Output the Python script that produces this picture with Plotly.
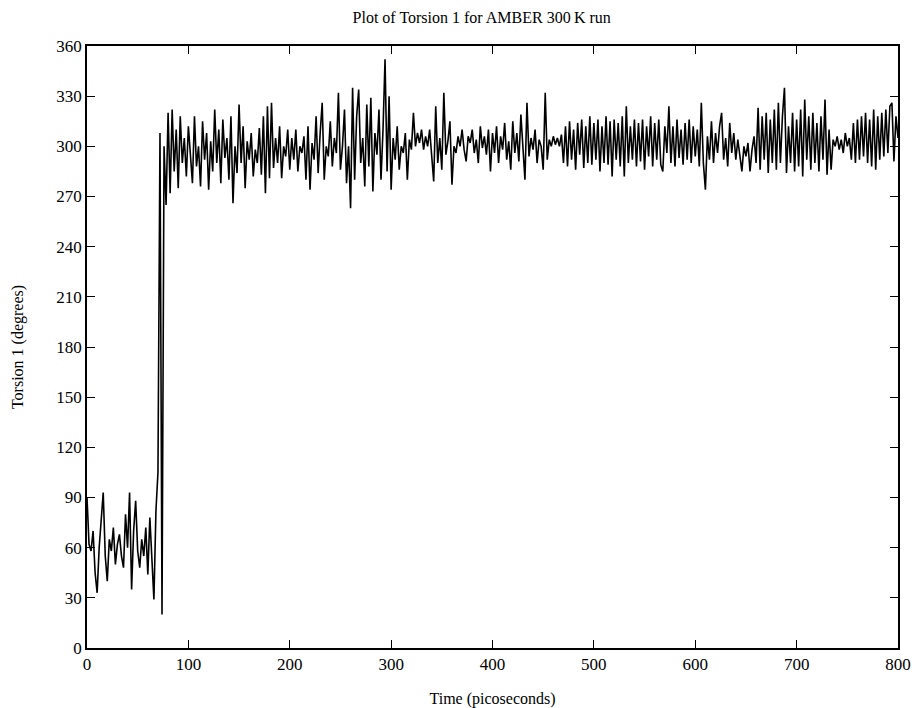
import plotly.graph_objects as go

TIME_STEP_PS = 2  # sampling interval of the trace (ps)

torsion_0_98 = [90, 62, 58, 70, 45, 33, 60, 75, 93, 55,
                40, 65, 58, 72, 50, 62, 68, 55, 48, 80,
                60, 93, 35, 70, 88, 58, 48, 65, 55, 72,
                44, 78, 55, 29, 82, 105, 308, 20, 300, 265,
                320, 272, 322, 285, 310, 275, 318, 290, 305, 282]
torsion_100_198 = [312, 295, 278, 318, 288, 300, 276, 315, 292, 308,
                   274, 303, 285, 322, 290, 310, 278, 316, 293, 305,
                   280, 318, 266, 300, 284, 325, 290, 312, 275, 303,
                   292, 308, 282, 298, 290, 311, 283, 318, 272, 324,
                   281, 326, 287, 305, 290, 312, 281, 300, 294, 310]
torsion_200_298 = [286, 305, 292, 310, 285, 300, 296, 306, 280, 312,
                   274, 302, 292, 318, 284, 308, 326, 280, 300, 294,
                   315, 288, 305, 296, 332, 286, 300, 322, 278, 300,
                   263, 335, 280, 318, 334, 290, 305, 276, 325, 288,
                   329, 273, 308, 295, 322, 280, 310, 352, 285, 330]
torsion_300_398 = [274, 305, 292, 312, 286, 300, 296, 308, 280, 304,
                   298, 320, 300, 308, 302, 310, 298, 306, 300, 310,
                   292, 279, 324, 290, 305, 286, 332, 295, 303, 315,
                   277, 300, 296, 306, 300, 310, 298, 291, 306, 302,
                   310, 296, 304, 290, 312, 299, 306, 295, 310, 285]
torsion_400_498 = [308, 296, 312, 290, 306, 298, 314, 292, 303, 286,
                   315, 296, 308, 291, 319, 300, 280, 326, 294, 305,
                   298, 310, 290, 304, 300, 286, 332, 292, 304, 300,
                   306, 301, 305, 300, 307, 290, 312, 288, 315, 292,
                   310, 286, 314, 295, 316, 287, 312, 290, 318, 289]
torsion_500_598 = [314, 292, 316, 285, 312, 290, 318, 289, 315, 282,
                   316, 292, 314, 288, 318, 282, 324, 290, 312, 292,
                   316, 288, 314, 291, 316, 286, 312, 294, 318, 288,
                   314, 292, 316, 289, 285, 312, 296, 324, 290, 312,
                   288, 316, 293, 310, 289, 314, 292, 316, 290, 312]
torsion_600_698 = [294, 310, 288, 326, 290, 274, 306, 292, 315, 290,
                   308, 296, 312, 320, 292, 305, 288, 314, 296, 308,
                   292, 304, 296, 285, 300, 294, 302, 285, 298, 306,
                   290, 323, 286, 318, 292, 320, 284, 316, 290, 322,
                   286, 326, 290, 318, 335, 284, 312, 290, 320, 285]
torsion_700_800 = [316, 288, 322, 282, 328, 292, 318, 286, 320, 290,
                   314, 285, 318, 292, 328, 283, 310, 286, 304, 300,
                   306, 298, 304, 296, 308, 300, 305, 292, 314, 290,
                   316, 292, 318, 294, 320, 290, 316, 288, 322, 286,
                   318, 292, 320, 294, 322, 296, 324, 326, 291, 318,
                   305]

torsion = (torsion_0_98 + torsion_100_198 + torsion_200_298 + torsion_300_398
           + torsion_400_498 + torsion_500_598 + torsion_600_698 + torsion_700_800)
time_ps = [i * TIME_STEP_PS for i in range(len(torsion))]

x_ticks = [0, 100, 200, 300, 400, 500, 600, 700, 800]
y_ticks = [0, 30, 60, 90, 120, 150, 180, 210, 240, 270, 300, 330, 360]

title_text = "Plot of Torsion 1 for AMBER 300\u2009K run"
x_title = "Time (picoseconds)"
y_title = "Torsion 1 (degrees)"

FONT = "Liberation Serif, Times New Roman, serif"

fig = go.Figure()
fig.add_trace(go.Scatter(x=time_ps, y=torsion, mode="lines",
                         line=dict(color="black", width=1.6),
                         showlegend=False, hoverinfo="skip", cliponaxis=False))

axis_common = dict(showline=True, linecolor="black", linewidth=1.6,
                   mirror="ticks", ticks="inside", ticklen=8, tickwidth=1.4,
                   tickcolor="black", showgrid=False, zeroline=False,
                   automargin=False,
                   tickfont=dict(family=FONT, size=17, color="black"))

fig.update_layout(
    width=914, height=708,
    margin=dict(l=87, r=16, t=46, b=60),
    paper_bgcolor="white", plot_bgcolor="white",
    font=dict(family=FONT, color="black"),
    title=dict(text=title_text, x=0.527, xanchor="center", y=0.975, yanchor="middle",
               font=dict(family=FONT, size=16, color="black")),
    xaxis=dict(range=[0, 800], tickvals=x_ticks, ticktext=[str(v) for v in x_ticks],
               title=dict(text=x_title, font=dict(family=FONT, size=16), standoff=21),
               **axis_common),
    yaxis=dict(range=[0, 360], tickvals=y_ticks, ticktext=[str(v) for v in y_ticks],
               title=dict(text=y_title, font=dict(family=FONT, size=16), standoff=29),
               **axis_common),
)

fig.write_html("out.html")
